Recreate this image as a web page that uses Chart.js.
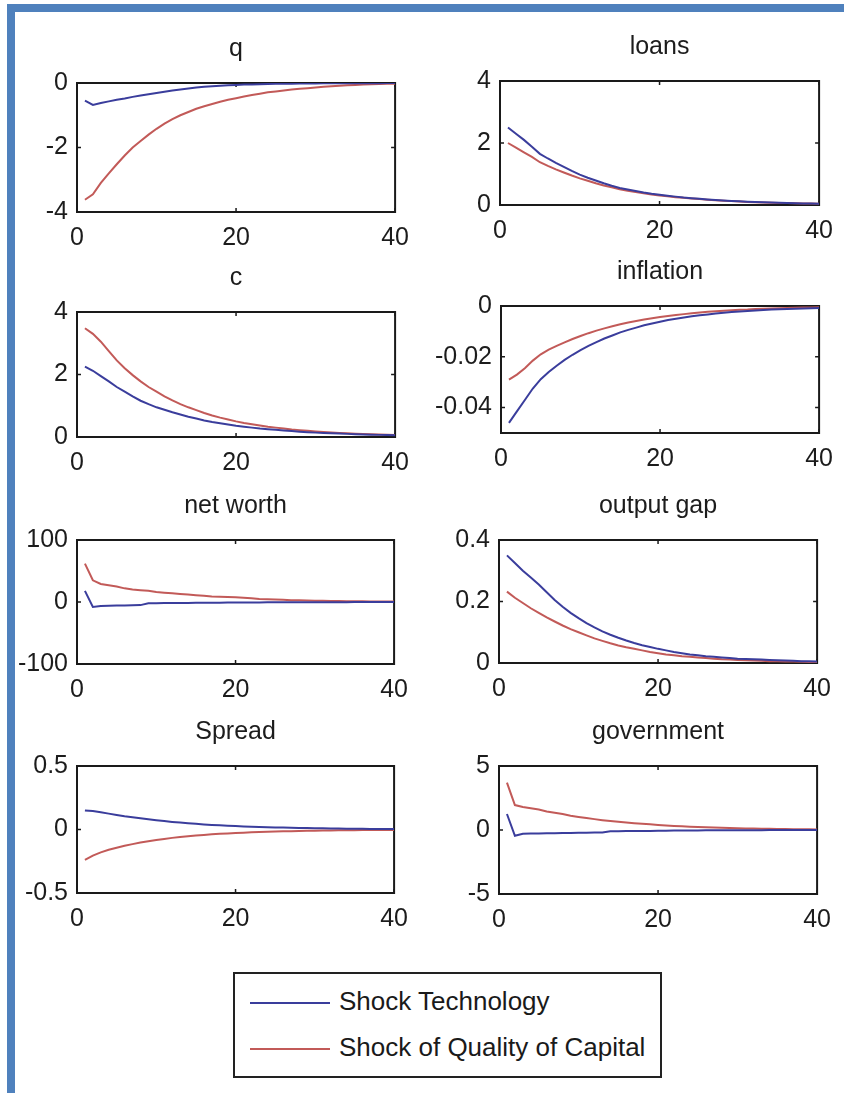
<!DOCTYPE html>
<html>
<head>
<meta charset="utf-8">
<script src="https://cdn.jsdelivr.net/npm/chart.js@4.4.1/dist/chart.umd.min.js"></script>
<style>
  html, body { margin:0; padding:0; background:#fff; }
  #page { position:relative; width:844px; height:1093px; overflow:hidden; background:#fff; font-family:"Liberation Sans", Arial, sans-serif; }
  canvas { position:absolute; }
  .bar { position:absolute; background:#4f81bd; z-index:5; }
  #legend { position:absolute; left:233px; top:972px; width:429px; height:106px; box-sizing:border-box; border:2px solid #222; background:#fff; }
  .lg-line { position:absolute; left:15px; width:80px; height:2px; }
  .lg-text { position:absolute; left:104px; font-size:26px; line-height:30px; color:#1a1a1a; white-space:nowrap; }
</style>
</head>
<body>
<div id="page">
  <div class="bar" style="left:7px; top:4px; width:837px; height:8px;"></div>
  <div class="bar" style="left:7px; top:4px; width:8px; height:1089px;"></div>
  <div id="legend">
    <div class="lg-line" style="top:28px; background:#3a3d9c;"></div>
    <div class="lg-text" style="top:12px;">Shock Technology</div>
    <div class="lg-line" style="top:74px; background:#c25a58;"></div>
    <div class="lg-text" style="top:58px;">Shock of Quality of Capital</div>
  </div>
</div>
<script>
// ---------------- DATA ----------------
const periods = [1,2,3,4,5,6,7,8,9,10,11,12,13,14,15,16,17,18,19,20,21,22,23,24,25,26,27,28,29,30,31,32,33,34,35,36,37,38,39,40];
const seriesNames = ["Shock Technology", "Shock of Quality of Capital"];
const xTicks = [0, 20, 40];

const qTech = [-0.55,-0.68,-0.62,-0.57,-0.52,-0.48,-0.43,-0.39,-0.35,-0.31,-0.27,-0.23,-0.2,-0.17,-0.14,-0.12,-0.1,-0.085,-0.07,-0.06,-0.05,-0.043,-0.037,-0.031,-0.027,-0.023,-0.02,-0.017,-0.015,-0.013,-0.011,-0.01,-0.008,-0.007,-0.006,-0.005,-0.004,-0.004,-0.003,-0.003];
const qCap = [-3.62,-3.45,-3.1,-2.8,-2.52,-2.25,-2.0,-1.8,-1.6,-1.42,-1.26,-1.12,-1.0,-0.9,-0.8,-0.72,-0.65,-0.58,-0.52,-0.47,-0.42,-0.37,-0.33,-0.29,-0.26,-0.23,-0.2,-0.18,-0.16,-0.14,-0.12,-0.1,-0.085,-0.07,-0.06,-0.05,-0.04,-0.03,-0.025,-0.02];
const qTicks = [-4, -2, 0];
const qLabels = ["-4", "-2", "0"];

const loansTech = [2.5,2.3,2.1,1.88,1.65,1.5,1.36,1.23,1.1,0.98,0.88,0.79,0.7,0.62,0.55,0.5,0.45,0.4,0.36,0.33,0.3,0.27,0.24,0.22,0.2,0.18,0.16,0.145,0.13,0.12,0.105,0.095,0.085,0.077,0.07,0.063,0.057,0.05,0.046,0.042];
const loansCap = [2.0,1.85,1.7,1.55,1.38,1.26,1.15,1.05,0.95,0.86,0.78,0.7,0.63,0.57,0.51,0.46,0.42,0.38,0.34,0.31,0.28,0.25,0.23,0.21,0.19,0.17,0.155,0.14,0.125,0.113,0.1,0.092,0.083,0.075,0.068,0.061,0.055,0.05,0.045,0.04];
const loansTicks = [0, 2, 4];
const loansLabels = ["0", "2", "4"];

const cTech = [2.25,2.12,1.95,1.78,1.6,1.45,1.3,1.16,1.05,0.95,0.87,0.79,0.72,0.65,0.59,0.53,0.48,0.44,0.4,0.36,0.33,0.3,0.27,0.25,0.23,0.21,0.19,0.17,0.155,0.14,0.13,0.12,0.11,0.1,0.09,0.082,0.075,0.068,0.062,0.056];
const cCap = [3.48,3.3,3.05,2.75,2.45,2.2,1.98,1.78,1.6,1.45,1.3,1.17,1.05,0.95,0.86,0.77,0.69,0.62,0.56,0.5,0.45,0.41,0.37,0.33,0.3,0.27,0.24,0.22,0.2,0.18,0.16,0.145,0.13,0.12,0.105,0.095,0.085,0.077,0.07,0.063];
const cTicks = [0, 2, 4];
const cLabels = ["0", "2", "4"];

const inflTech = [-0.046,-0.0415,-0.037,-0.0325,-0.0288,-0.026,-0.0235,-0.0212,-0.0192,-0.0174,-0.0157,-0.0142,-0.0128,-0.0116,-0.0104,-0.0094,-0.0085,-0.0076,-0.0069,-0.0062,-0.0055,-0.005,-0.0045,-0.004,-0.0036,-0.0033,-0.003,-0.0027,-0.0024,-0.0022,-0.002,-0.0018,-0.0016,-0.0014,-0.0013,-0.0012,-0.0011,-0.001,-0.0009,-0.0008];
const inflCap = [-0.029,-0.027,-0.0245,-0.0215,-0.019,-0.0172,-0.0157,-0.0143,-0.013,-0.0118,-0.0107,-0.0097,-0.0088,-0.008,-0.0072,-0.0065,-0.0059,-0.0053,-0.0048,-0.0043,-0.0039,-0.0035,-0.0032,-0.0029,-0.0026,-0.0023,-0.0021,-0.0019,-0.0017,-0.0015,-0.0014,-0.0012,-0.0011,-0.001,-0.0009,-0.0008,-0.0007,-0.0006,-0.0006,-0.0005];
const inflTicks = [-0.04, -0.02, 0];
const inflLabels = ["-0.04", "-0.02", "0"];

const nwTech = [18,-8,-6.5,-6,-5.8,-5.5,-5.3,-5,-2,-1.9,-1.8,-1.7,-1.6,-1.5,-1.4,-1.3,-1.2,-1.1,-1,-0.9,-0.8,-0.7,-0.65,-0.6,-0.55,-0.5,-0.45,-0.4,-0.36,-0.33,-0.3,-0.27,-0.24,-0.22,-0.2,-0.18,-0.16,-0.14,-0.12,-0.1];
const nwCap = [62,35,29,27,25,22,20,19,18,16,15,14,13,12,11,10,9,8.5,8,7.5,7,6,5,4.5,4,3.5,3,2.8,2.5,2.2,2,1.8,1.6,1.4,1.2,1.1,1,0.9,0.8,0.7];
const nwTicks = [-100, 0, 100];
const nwLabels = ["-100", "0", "100"];

const ogTech = [0.35,0.325,0.3,0.278,0.255,0.23,0.205,0.183,0.163,0.146,0.13,0.116,0.103,0.092,0.082,0.073,0.065,0.058,0.052,0.046,0.041,0.036,0.032,0.028,0.025,0.022,0.02,0.018,0.016,0.014,0.013,0.012,0.011,0.01,0.009,0.008,0.007,0.006,0.006,0.005];
const ogCap = [0.232,0.212,0.195,0.178,0.163,0.148,0.135,0.122,0.11,0.1,0.09,0.08,0.072,0.064,0.057,0.051,0.046,0.041,0.036,0.032,0.028,0.025,0.022,0.02,0.018,0.016,0.014,0.012,0.011,0.01,0.009,0.008,0.007,0.006,0.0055,0.005,0.0045,0.004,0.0035,0.003];
const ogTicks = [0, 0.2, 0.4];
const ogLabels = ["0", "0.2", "0.4"];

const spTech = [0.15,0.145,0.135,0.125,0.115,0.105,0.097,0.088,0.08,0.073,0.066,0.06,0.055,0.05,0.045,0.04,0.036,0.033,0.03,0.027,0.024,0.022,0.02,0.018,0.016,0.015,0.013,0.012,0.011,0.01,0.009,0.008,0.007,0.0065,0.006,0.005,0.0045,0.004,0.0035,0.003];
const spCap = [-0.24,-0.205,-0.18,-0.16,-0.143,-0.128,-0.115,-0.103,-0.092,-0.082,-0.074,-0.066,-0.059,-0.053,-0.048,-0.043,-0.038,-0.034,-0.031,-0.028,-0.025,-0.022,-0.02,-0.018,-0.016,-0.014,-0.013,-0.012,-0.01,-0.009,-0.008,-0.007,-0.0065,-0.006,-0.005,-0.0045,-0.004,-0.0035,-0.003,-0.003];
const spTicks = [-0.5, 0, 0.5];
const spLabels = ["-0.5", "0", "0.5"];

const govTech = [1.25,-0.45,-0.3,-0.28,-0.27,-0.26,-0.25,-0.24,-0.23,-0.22,-0.21,-0.2,-0.19,-0.1,-0.09,-0.085,-0.08,-0.075,-0.07,-0.06,-0.05,-0.045,-0.04,-0.035,-0.03,-0.027,-0.024,-0.021,-0.018,-0.016,-0.014,-0.012,-0.01,-0.009,-0.008,-0.007,-0.006,-0.005,-0.004,-0.003];
const govCap = [3.7,1.95,1.8,1.7,1.6,1.45,1.35,1.25,1.12,1.02,0.93,0.85,0.77,0.7,0.64,0.58,0.53,0.48,0.44,0.4,0.36,0.32,0.29,0.26,0.23,0.21,0.19,0.17,0.15,0.13,0.12,0.11,0.1,0.09,0.08,0.07,0.06,0.055,0.05,0.045];
const govTicks = [-5, 0, 5];
const govLabels = ["-5", "0", "5"];

// ---------------- LAYOUT ----------------
const BLUE = '#3a3d9c';
const RED = '#c25a58';
const TEXT = '#1c1c1c';
const FONT = '"Liberation Sans", Arial, sans-serif';

const panels = [
  { title:'q',          tech:qTech,     cap:qCap,     ticks:qTicks,     labels:qLabels,     min:-4,    max:0,   col:0, box:[77,398,83,212] },
  { title:'loans',      tech:loansTech, cap:loansCap, ticks:loansTicks, labels:loansLabels, min:0,     max:4,   col:1, box:[500,822,81,205] },
  { title:'c',          tech:cTech,     cap:cCap,     ticks:cTicks,     labels:cLabels,     min:0,     max:4,   col:0, box:[77,398,312,437] },
  { title:'inflation',  tech:inflTech,  cap:inflCap,  ticks:inflTicks,  labels:inflLabels,  min:-0.05, max:0,   col:1, box:[501,822,306,433] },
  { title:'net worth',  tech:nwTech,    cap:nwCap,    ticks:nwTicks,    labels:nwLabels,    min:-100,  max:100, col:0, box:[77,397,540,664] },
  { title:'output gap', tech:ogTech,    cap:ogCap,    ticks:ogTicks,    labels:ogLabels,    min:0,     max:0.4, col:1, box:[499,820,540,663] },
  { title:'Spread',     tech:spTech,    cap:spCap,    ticks:spTicks,    labels:spLabels,    min:-0.5,  max:0.5, col:0, box:[77,397,766,893] },
  { title:'government', tech:govTech,   cap:govCap,   ticks:govTicks,   labels:govLabels,   min:-5,    max:5,   col:1, box:[499,820,766,894] }
];

const boxPlugin = {
  id: 'matlabBox',
  beforeDatasetsDraw(chart) {
    const { ctx, chartArea: a, scales: { x, y } } = chart;
    ctx.save();
    ctx.strokeStyle = '#1a1a1a';
    ctx.lineWidth = 2;
    ctx.strokeRect(a.left, a.top, a.right - a.left, a.bottom - a.top);
    ctx.lineWidth = 1.5;
    ctx.beginPath();
    x.ticks.forEach(t => {
      const px = x.getPixelForValue(t.value);
      ctx.moveTo(px, a.bottom); ctx.lineTo(px, a.bottom - 4);
      ctx.moveTo(px, a.top); ctx.lineTo(px, a.top + 4);
    });
    y.ticks.forEach(t => {
      const py = y.getPixelForValue(t.value);
      ctx.moveTo(a.left, py); ctx.lineTo(a.left + 4, py);
      ctx.moveTo(a.right, py); ctx.lineTo(a.right - 4, py);
    });
    ctx.stroke();
    ctx.restore();
  }
};

const page = document.getElementById('page');
const TITLE_SPACE = 49;
const XAXIS_H = 45;
const RIGHT_PAD = 22;

panels.forEach(p => {
  const [x0, x1, y0, y1] = p.box;
  const colLeft = p.col === 0 ? 0 : 420;
  const yw = x0 - colLeft;
  const cv = document.createElement('canvas');
  const w = (x1 + RIGHT_PAD) - colLeft;
  const h = (y1 - y0) + TITLE_SPACE + XAXIS_H;
  cv.width = w; cv.height = h;
  cv.style.left = colLeft + 'px';
  cv.style.top = (y0 - TITLE_SPACE) + 'px';
  cv.style.width = w + 'px';
  cv.style.height = h + 'px';
  page.insertBefore(cv, document.getElementById('legend'));

  new Chart(cv, {
    type: 'line',
    data: {
      datasets: [
        { label: seriesNames[0], data: periods.map((t, i) => ({ x: t, y: p.tech[i] })), borderColor: BLUE, borderWidth: 2, pointRadius: 0, tension: 0, fill: false },
        { label: seriesNames[1], data: periods.map((t, i) => ({ x: t, y: p.cap[i] })),  borderColor: RED,  borderWidth: 2, pointRadius: 0, tension: 0, fill: false }
      ]
    },
    options: {
      responsive: false,
      animation: false,
      devicePixelRatio: 1,
      layout: { padding: { left: 0, right: RIGHT_PAD, top: 0, bottom: 0 } },
      plugins: {
        legend: { display: false },
        tooltip: { enabled: false },
        title: {
          display: true, text: p.title, color: TEXT, fullSize: false,
          font: { family: FONT, size: 25, weight: 'normal', lineHeight: 1 },
          padding: { top: 3, bottom: TITLE_SPACE - 25 - 3 }
        }
      },
      scales: {
        x: {
          type: 'linear', min: 0, max: 40,
          afterBuildTicks: s => { s.ticks = xTicks.map(v => ({ value: v })); },
          afterFit: s => { s.height = XAXIS_H; },
          grid: { display: false, drawTicks: false },
          border: { display: false },
          ticks: { color: TEXT, padding: 11, maxRotation: 0, autoSkip: false, font: { family: FONT, size: 25 }, callback: v => String(v) }
        },
        y: {
          type: 'linear', min: p.min, max: p.max,
          afterBuildTicks: s => { s.ticks = p.ticks.map(v => ({ value: v })); },
          afterFit: s => { s.width = yw; },
          grid: { display: false, drawTicks: false },
          border: { display: false },
          ticks: { color: TEXT, padding: 9, autoSkip: false, font: { family: FONT, size: 25 },
                   callback: function(v) { const i = p.ticks.indexOf(v); return i >= 0 ? p.labels[i] : ''; } }
        }
      }
    },
    plugins: [boxPlugin]
  });
});
</script>
</body>
</html>
